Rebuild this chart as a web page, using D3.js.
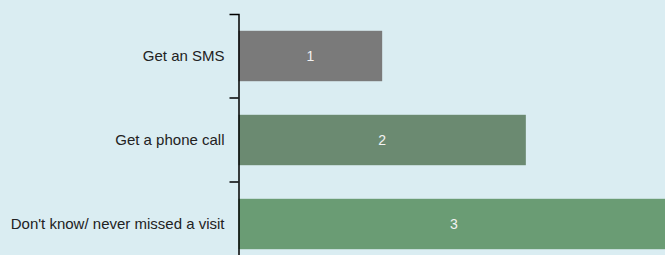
<!DOCTYPE html>
<html><head><meta charset="utf-8">
<script src="https://cdn.jsdelivr.net/npm/d3@7"></script>
<style>html,body{margin:0;padding:0;background:#daedf2;overflow:hidden}</style>
</head><body>
<svg id="c" width="665" height="255"></svg>
<script>
const categories = ["Get an SMS", "Get a phone call", "Don't know/ never missed a visit"];
const values = [1, 2, 3];
const labels = ["1", "2", "3"];
const colors = ["#7a7a7a", "#6b8a71", "#6a9c74"];

const svg = d3.select("#c");
svg.append("rect").attr("width", 665).attr("height", 255).attr("fill", "#daedf2");

const x0 = 238.5;
const x = d3.scaleLinear().domain([0, 3]).range([x0, x0 + 431]);
const y = d3.scaleBand().domain(categories).range([14, 266]).paddingInner(0.4).paddingOuter(0.2);

svg.selectAll("rect.bar").data(categories).join("rect")
  .attr("class", "bar")
  .attr("x", x(0))
  .attr("y", d => y(d))
  .attr("width", (d, i) => x(values[i]) - x(0))
  .attr("height", y.bandwidth())
  .attr("fill", (d, i) => colors[i]);

svg.selectAll("text.val").data(categories).join("text")
  .attr("class", "val")
  .attr("x", (d, i) => (x(0) + x(values[i])) / 2)
  .attr("y", d => y(d) + y.bandwidth() / 2)
  .attr("dy", "0.35em")
  .attr("text-anchor", "middle")
  .attr("fill", "#f2f2f2")
  .style("font", "14px 'Liberation Sans', Arial, sans-serif")
  .text((d, i) => labels[i]);

const axis = d3.axisLeft(y).tickSizeInner(0).tickSizeOuter(9).tickPadding(14);
const g = svg.append("g").attr("transform", `translate(${x0},0)`).call(axis);
g.select(".domain").attr("stroke", "#000").attr("stroke-width", 1.5);
g.selectAll(".tick text").attr("fill", "#222").style("font", "15px 'Liberation Sans', Arial, sans-serif");

const bounds = d3.range(1, categories.length).map(i => y.range()[0] + i * y.step());
g.selectAll("line.sep").data(bounds).join("line")
  .attr("class", "sep")
  .attr("x1", -9).attr("x2", 0)
  .attr("y1", d => d).attr("y2", d => d)
  .attr("stroke", "#000").attr("stroke-width", 1.5);
</script>
</body></html>
